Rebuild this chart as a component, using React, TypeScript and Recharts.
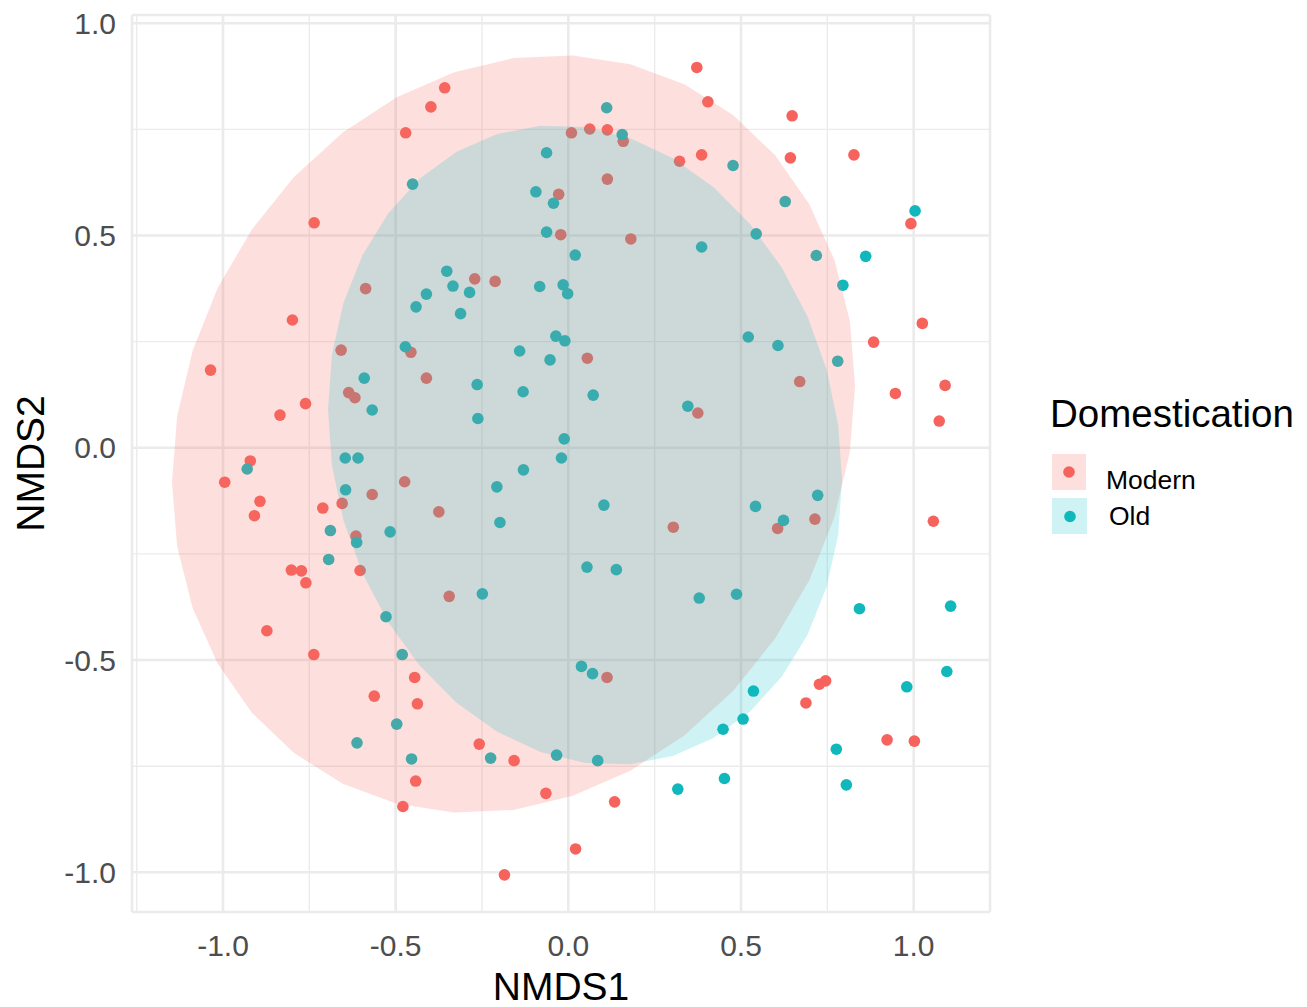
import { CartesianGrid, Scatter, ScatterChart, XAxis, YAxis } from "recharts";

// NMDS scores
const modernX = [
    -0.398, -0.358, -0.471, -0.736, -0.587, 0.372, 0.009, 0.062, 0.113, 0.159,
    0.322, 0.386, 0.113, -0.028, -0.022, 0.181, -0.271, -0.212, 0.404, 0.648,
    0.643, 0.827, 0.992, -0.799, -0.658, -0.456, -0.411, -1.036, -0.636, -0.618,
    -0.761, -0.835, -0.921, -0.995, -0.474, -0.568, -0.893, -0.909, -0.711, -0.655,
    -0.615, -0.802, -0.773, -0.603, -0.76, 0.055, 0.375, -0.375, 0.304, -0.345,
    1.025, 0.884, 0.67, 0.947, 1.091, 1.074, 0.714, 0.606, 1.057, -0.873,
    -0.737, -0.445, -0.562, -0.437, -0.442, -0.479, 0.112, -0.258, -0.157, -0.065,
    0.134, 0.021, -0.185, 0.727, 0.745, 0.688, 0.923, 1.002,
];
const modernY = [
    0.803, 0.848, 0.742, 0.53, 0.375, 0.896, 0.742, 0.751, 0.749, 0.722,
    0.675, 0.69, 0.633, 0.597, 0.502, 0.492, 0.398, 0.392, 0.815, 0.782,
    0.683, 0.69, 0.528, 0.301, 0.23, 0.225, 0.164, 0.183, 0.13, 0.118,
    0.104, 0.077, -0.031, -0.081, -0.08, -0.11, -0.126, -0.16, -0.142, -0.131,
    -0.208, -0.288, -0.29, -0.289, -0.318, 0.211, 0.082, -0.151, -0.187, -0.35,
    0.293, 0.249, 0.156, 0.128, 0.147, 0.063, -0.168, -0.19, -0.173, -0.431,
    -0.487, -0.541, -0.585, -0.603, -0.785, -0.845, -0.541, -0.698, -0.737, -0.814,
    -0.834, -0.945, -1.006, -0.557, -0.549, -0.601, -0.688, -0.691,
];
const oldX = [
    -0.451, -0.411, 0.111, 0.156, -0.063, -0.094, -0.043, -0.063, 0.386, 0.02,
    -0.352, -0.334, -0.286, -0.083, -0.015, -0.002, 0.477, 0.628, 0.544, 1.004,
    0.718, 0.861, 0.795, -0.441, -0.312, -0.472, -0.591, -0.568, -0.036, -0.01,
    -0.141, -0.053, -0.264, -0.131, 0.072, 0.346, -0.262, -0.012, -0.02, -0.13,
    -0.207, 0.103, -0.198, -0.646, -0.609, -0.93, -0.645, -0.689, -0.516, -0.613,
    -0.694, 0.521, 0.607, 0.78, 0.722, 0.542, 0.623, 0.054, 0.139, -0.249,
    0.379, 0.487, 0.843, 1.107, -0.528, -0.481, 0.038, 0.07, -0.497, -0.612,
    -0.454, -0.225, -0.034, 0.085, 0.317, 0.452, 0.536, 0.506, 0.448, 0.776,
    0.805, 0.98, 1.096,
];
const oldY = [
    0.621, 0.362, 0.801, 0.738, 0.695, 0.603, 0.576, 0.508, 0.473, 0.454,
    0.416, 0.381, 0.366, 0.38, 0.384, 0.363, 0.665, 0.58, 0.504, 0.558,
    0.453, 0.451, 0.383, 0.332, 0.316, 0.238, 0.164, 0.089, 0.263, 0.252,
    0.228, 0.207, 0.149, 0.132, 0.124, 0.098, 0.069, 0.021, -0.024, -0.052,
    -0.092, -0.135, -0.176, -0.024, -0.024, -0.05, -0.099, -0.195, -0.198, -0.223,
    -0.263, 0.261, 0.241, 0.204, -0.112, -0.138, -0.171, -0.281, -0.287, -0.344,
    -0.354, -0.345, -0.379, -0.373, -0.398, -0.487, -0.515, -0.532, -0.651, -0.695,
    -0.733, -0.731, -0.724, -0.737, -0.804, -0.779, -0.573, -0.639, -0.663, -0.71,
    -0.794, -0.563, -0.527,
];

// outlines of the two confidence ellipses
const modernHullX = [
    0.8303, 0.8153, 0.7706, 0.6978, 0.5989, 0.477, 0.3358, 0.1795, 0.013, -0.1587,
    -0.3304, -0.4969, -0.6532, -0.7944, -0.9163, -1.0152, -1.088, -1.1327, -1.1477, -1.1327,
    -1.088, -1.0152, -0.9163, -0.7944, -0.6532, -0.4969, -0.3304, -0.1587, 0.013, 0.1795,
    0.3358, 0.477, 0.5989, 0.6978, 0.7706, 0.8153,
];
const modernHullY = [
    0.1463, -0.0092, -0.1634, -0.3118, -0.4495, -0.5727, -0.6775, -0.7607, -0.8197, -0.853,
    -0.8593, -0.8385, -0.7913, -0.7189, -0.6239, -0.5088, -0.3772, -0.2332, -0.0813, 0.0742,
    0.2284, 0.3768, 0.5145, 0.6377, 0.7425, 0.8257, 0.8847, 0.918, 0.9243, 0.9035,
    0.8563, 0.7839, 0.6889, 0.5738, 0.4422, 0.2982,
];
const oldHullX = [
    0.7926, 0.7813, 0.7478, 0.6929, 0.6185, 0.5268, 0.4205, 0.3029, 0.1776, 0.0484,
    -0.0808, -0.2061, -0.3237, -0.43, -0.5217, -0.5961, -0.651, -0.6846, -0.6959, -0.6846,
    -0.651, -0.5961, -0.5217, -0.43, -0.3237, -0.2061, -0.0808, 0.0484, 0.1776, 0.3029,
    0.4205, 0.5268, 0.6185, 0.6929, 0.7478, 0.7813,
];
const oldHullY = [
    -0.077, -0.2058, -0.3282, -0.4404, -0.539, -0.621, -0.6839, -0.7259, -0.7456, -0.7425,
    -0.7166, -0.6687, -0.6003, -0.5134, -0.4108, -0.2956, -0.171, -0.041, 0.0902, 0.219,
    0.3414, 0.4536, 0.5522, 0.6342, 0.6971, 0.7391, 0.7588, 0.7557, 0.7298, 0.6819,
    0.6135, 0.5266, 0.424, 0.3088, 0.1842, 0.0542,
];

const xTicks = [-1, -0.5, 0, 0.5, 1];
const yTicks = [-1, -0.5, 0, 0.5, 1];
const xMinor = [-1.25, -0.75, -0.25, 0.25, 0.75];
const yMinor = [-0.75, -0.25, 0.25, 0.75];

const MODERN = "#F6625C";
const OLD = "#10B8BC";
const FONT = "'Liberation Sans', Arial, Helvetica, sans-serif";

const zip = (xs: number[], ys: number[]) => xs.map((x, i) => ({ x, y: ys[i] }));

const modern = zip(modernX, modernY);
const old = zip(oldX, oldY);
const modernHull = zip(modernHullX, modernHullY);
const oldHull = zip(oldHullX, oldHullY);

const dot = (color: string) => (p: any) => (
    <circle cx={p.cx} cy={p.cy} r={5.8} fill={color} />
);
const noDot = () => <g />;

export default function App() {
    return (
        <div
            style={{
                position: "absolute",
                left: 0,
                top: 0,
                width: 1307,
                height: 1007,
                background: "#fff",
                fontFamily: FONT,
            }}
        >
            <ScatterChart
                width={1307}
                height={1007}
                margin={{ top: 15, right: 317, bottom: 0, left: 0 }}
            >
                <CartesianGrid
                    verticalValues={xMinor}
                    horizontalValues={yMinor}
                    stroke="#ebebeb"
                    strokeWidth={1.4}
                />
                <CartesianGrid stroke="#ebebeb" strokeWidth={2.6} />
                <XAxis
                    type="number"
                    dataKey="x"
                    domain={[-1.2635, 1.221]}
                    allowDataOverflow
                    ticks={xTicks}
                    tickFormatter={(v: number) => v.toFixed(1)}
                    height={95}
                    axisLine={false}
                    tickLine={false}
                    tickSize={0}
                    tickMargin={23}
                    tick={{ fill: "#4d4d4d", fontSize: 30, fontFamily: FONT }}
                    label={{
                        value: "NMDS1",
                        position: "insideBottom",
                        offset: 7,
                        fill: "#000",
                        fontSize: 39,
                        fontFamily: FONT,
                    }}
                />
                <YAxis
                    type="number"
                    dataKey="y"
                    domain={[-1.0935, 1.0195]}
                    allowDataOverflow
                    ticks={yTicks}
                    tickFormatter={(v: number) => v.toFixed(1)}
                    width={132}
                    axisLine={false}
                    tickLine={false}
                    tickSize={0}
                    tickMargin={16}
                    tick={{ fill: "#4d4d4d", fontSize: 30, fontFamily: FONT }}
                    label={{
                        value: "NMDS2",
                        angle: -90,
                        position: "insideLeft",
                        offset: 30,
                        fill: "#000",
                        fontSize: 39,
                        fontFamily: FONT,
                        style: { textAnchor: "middle" },
                    }}
                />
                <Scatter data={modern} shape={dot(MODERN)} isAnimationActive={false} />
                <Scatter data={old} shape={dot(OLD)} isAnimationActive={false} />
                <Scatter
                    data={modernHull}
                    shape={noDot}
                    line={{ fill: "#F8766D", fillOpacity: 0.23, stroke: "none" }}
                    lineType="joint"
                    lineJointType="linearClosed"
                    isAnimationActive={false}
                />
                <Scatter
                    data={oldHull}
                    shape={noDot}
                    line={{ fill: "#00BFC4", fillOpacity: 0.19, stroke: "none" }}
                    lineType="joint"
                    lineJointType="linearClosed"
                    isAnimationActive={false}
                />
            </ScatterChart>
            <svg
                width={1307}
                height={1007}
                style={{ position: "absolute", left: 0, top: 0, pointerEvents: "none" }}
                fontFamily={FONT}
            >
                <text x={1050} y={427} fontSize={38.5} fill="#000">
                    Domestication
                </text>
                <rect x={1052} y={454} width={34} height={36} fill="#F8766D" fillOpacity={0.23} />
                <circle cx={1069} cy={472} r={5.8} fill={MODERN} />
                <text x={1106} y={489} fontSize={26.5} fill="#000">
                    Modern
                </text>
                <rect x={1052} y={498} width={35} height={36} fill="#00BFC4" fillOpacity={0.19} />
                <circle cx={1070} cy={516.5} r={5.8} fill={OLD} />
                <text x={1109} y={525} fontSize={26.5} fill="#000">
                    Old
                </text>
            </svg>
        </div>
    );
}
